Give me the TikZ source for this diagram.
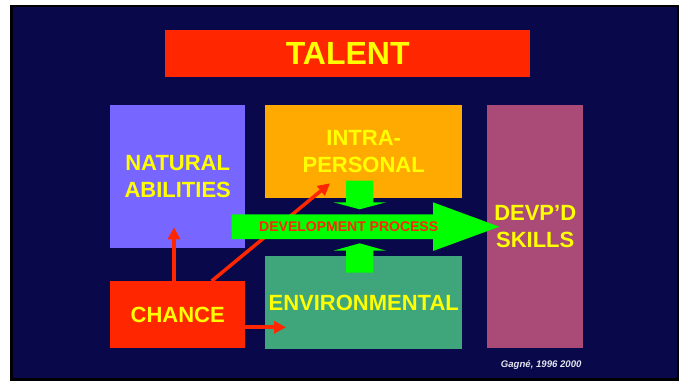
\documentclass[tikz,border=0pt]{standalone}
\usepackage{fontspec}
\setmainfont{Liberation Sans}
\usetikzlibrary{arrows.meta}
\definecolor{navy}{HTML}{08084A}
\definecolor{tred}{HTML}{FF2600}
\definecolor{natcol}{HTML}{7766FF}
\definecolor{intracol}{HTML}{FFAA00}
\definecolor{devpcol}{HTML}{AA4B77}
\definecolor{envcol}{HTML}{3EA67A}
\definecolor{gcol}{HTML}{00FF00}
\definecolor{ytext}{HTML}{FFFF00}
\definecolor{credit}{HTML}{E4E4F0}
\tikzset{
  box/.style={draw=none, inner sep=0pt, anchor=north west, text=ytext, align=center,
    font=\bfseries\fontsize{22}{26.7}\selectfont},
  redarrow/.style={draw=tred, line width=4pt, -{Triangle[width=12pt,length=12pt]}},
  greenarrow/.style={fill=gcol, draw=none}
}
\begin{document}
\begin{tikzpicture}[x=1pt,y=-1pt]
\useasboundingbox (0,0) rectangle (685,381);
\fill[white] (0,0) rectangle (685,381);
\fill[black] (10,5) rectangle (678.5,380.5);
\fill[navy] (12.5,7) rectangle (676.5,378);

\node[box, fill=tred, minimum width=365pt, minimum height=46.7pt,
  font=\bfseries\fontsize{32}{38}\selectfont] (talent) at (165,30) {TALENT};
\node[box, fill=natcol, minimum width=135pt, minimum height=142.7pt] (nat) at (110,105) {NATURAL\\ABILITIES};
\node[box, fill=intracol, minimum width=197pt, minimum height=92.7pt] (intra) at (265,105) {INTRA-\\PERSONAL};
\node[box, fill=devpcol, minimum width=96pt, minimum height=242.7pt] (devp) at (487,105) {DEVP’D\\SKILLS};
\node[box, fill=tred, minimum width=135pt, minimum height=66.7pt] (chance) at (110,281) {CHANCE};
\node[box, fill=envcol, minimum width=197pt, minimum height=92.7pt] (env) at (265,256) {ENVIRONMENTAL};

% red arrows from CHANCE
\coordinate (natin) at (174,227.3);
\coordinate (intrain) at (330,183.3);
\coordinate (envin) at (286,327.3);
\draw[redarrow] (chance.north -| natin) -- (natin);
\draw[redarrow, line width=3.5pt] ([xshift=101.7pt]chance.north west) -- (intrain);
\draw[redarrow] (chance.east |- envin) -- (envin);

% green arrows
\fill[greenarrow] (231.7,214.3) -- (433,214.3) -- (433,202.3) -- (499.3,226.7)
  -- (433,251) -- (433,239) -- (231.7,239) -- cycle;
\fill[greenarrow] (346,180.7) -- (373.3,180.7) -- (373.3,202.3) -- (386,202.3)
  -- (359.7,209.3) -- (333.3,202.3) -- (346,202.3) -- cycle;
\fill[greenarrow] (346,272.7) -- (373.3,272.7) -- (373.3,250.7) -- (386,250.7)
  -- (359.7,243.3) -- (333.3,250.7) -- (346,250.7) -- cycle;
\node[text=tred, inner sep=0pt, font=\bfseries\fontsize{14}{16}\selectfont] (devproc) at (348.7,226.7) {DEVELOPMENT PROCESS};

\node[anchor=base west, inner sep=0pt, text=credit, font=\bfseries\itshape\fontsize{9.6}{11}\selectfont] (credit) at (500.7,367.7) {Gagné, 1996 2000};
\end{tikzpicture}
\end{document}
